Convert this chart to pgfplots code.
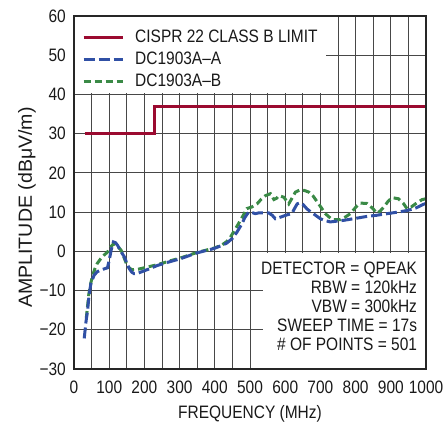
\documentclass[border=0pt]{standalone}
\usepackage{fontspec}
\setmainfont{Liberation Sans}[FakeStretch=0.86]
\newfontfamily\ylfont{Liberation Sans}[FakeStretch=1.03]
\usepackage{pgfplots}
\pgfplotsset{compat=1.18}
\definecolor{limred}{RGB}{155,10,48}
\definecolor{dcblue}{RGB}{48,80,165}
\definecolor{dcgreen}{RGB}{58,138,70}
\newcommand\bigf{\fontsize{18}{21}\selectfont}
\begin{document}
\begin{tikzpicture}
\begin{axis}[
 scale only axis, width=352pt, height=353pt,
 xmin=0,xmax=1000,ymin=-30,ymax=60,
 xtick={0,100,...,1000}, minor xtick={50,150,...,950},
 ytick={-30,-20,...,60},
 yticklabels={−30,−20,−10,0,10,20,30,40,50,60},
 grid=both,
 major grid style={black!72, line width=0.85pt},
 minor grid style={black!72, line width=0.85pt},
 major tick length=0pt, minor tick length=0pt,
 axis line style={black!85, line width=1.2pt},
 /pgf/number format/assume math mode=true,
 /pgf/number format/set thousands separator={},
 tick label style={font=\bigf, text=black!90},
 xticklabel style={anchor=base, yshift=-25pt, inner sep=0pt},
 yticklabel style={anchor=east, xshift=-8pt, inner sep=0pt},
 xlabel={FREQUENCY (MHz)},
 xlabel style={font=\bigf, text=black!90, at={([yshift=-50pt]axis description cs:0.5,0)}, anchor=base, inner sep=0pt},
 ylabel={AMPLITUDE (dBμV/m)},
 ylabel style={font=\ylfont\fontsize{19}{22}\selectfont, text=black!90, at={([xshift=-42pt,yshift=-15pt]axis description cs:0,0.5)}, anchor=base, inner sep=0pt},
 legend cell align=left,
 legend style={at={(0,1)}, anchor=north west, xshift=8pt, yshift=-13pt,
   draw=none, fill=none, font=\bigf, text=black!90, inner sep=0pt, row sep=5pt, column sep=11pt,
   nodes={inner sep=0pt, text height=13pt, text depth=4pt}},
 legend image code/.code={\draw[#1] (0pt,0pt) -- (39pt,0pt);},
]
\fill[white] (axis cs:0,40.35) rectangle (axis cs:717,60);
\fill[white] (axis cs:538,-30) rectangle (axis cs:1000,-0.35);

\addplot[limred, line width=3pt] coordinates {(30,30) (230,30) (230,37) (1000,37)};
\addlegendentry{CISPR 22 CLASS B LIMIT}

\addplot[dcgreen, line width=3pt, dash pattern=on 7pt off 4pt, forget plot] coordinates {
(35,-17) (42,-11) (48,-8) (52,-6.5) (59,-4.5) (66,-3.1) (75,-2) (85,-1) (95,-0.2) (104,1.1) (113,2.0) (123,1.4) (134,0.25) (143,-1.8) (151,-3.6) (158,-4.3) (165,-4.7) (185,-4.5) (209,-4) (237,-3.4) (270,-2.5) (302,-1.7) (349,-0.3) (397,0.8) (420,1.6) (434,2.5) (445,3.7) (453,4.9) (467,7) (481,9.2) (491,10.9) (505,11.3) (520,12.1) (532,13.3) (544,14.2) (558,14.7) (568,13.2) (575,13.5) (582,14.2) (596,13.8) (610,12.1) (619,13.5) (629,15.1) (643,15.7) (655,15.5) (667,15.1) (680,14) (695,12.1) (714,9.6) (733,8.1) (757,8.1) (770,8.7) (785,9.6) (800,11.2) (813,12.3) (832,12.2) (848,11) (861,9.7) (870,10.3) (880,11.3) (892,12.7) (903,13.7) (922,13.4) (935,12.3) (946,10.9) (958,11.3) (970,12.1) (989,13.2) (1000,13.4)};

\addplot[dcblue, line width=3pt, dash pattern=on 11pt off 4pt] coordinates {
(29,-22.2) (34,-18) (38.6,-15) (43,-11) (48,-8.2) (57,-6.1) (66,-5.2) (76,-4.8) (88,-4.4) (95,-4.2) (100,-2.3) (106,0.5) (112,2.4) (118,2.2) (124,1.5) (133,0) (143,-1.4) (150,-3) (157,-4.4) (164,-5.3) (171,-5.7) (180,-5.6) (190,-5.3) (210,-4.6) (237,-3.6) (270,-2.7) (302,-1.9) (349,-0.4) (397,0.7) (420,1.5) (434,2.1) (450,3.3) (463,4.9) (475,6.7) (486,8.7) (496,10) (505,9.9) (515,9.6) (525,9.8) (534,9.8) (553,9.8) (563,9.2) (572,8.3) (579,8.5) (586,8.7) (605,9.3) (619,9.6) (627,11) (634,12.1) (643,12.4) (650,12) (662,10.8) (672,10.1) (680,9.6) (700,8.3) (715,7.8) (728,7.5) (766,7.9) (800,8.4) (832,8.9) (860,9.2) (889,9.6) (920,10) (946,10.4) (970,11) (993,12) (1000,12.2)};
\addlegendentry{DC1903A–A}

\addlegendimage{dcgreen, line width=3pt, dash pattern=on 7pt off 4pt}
\addlegendentry{DC1903A–B}

\node[anchor=base east, font=\bigf, text=black!90, inner sep=0pt] at (axis cs:975,-6) {DETECTOR = QPEAK};
\node[anchor=base east, font=\bigf, text=black!90, inner sep=0pt] at (axis cs:975,-10.85) {RBW = 120kHz};
\node[anchor=base east, font=\bigf, text=black!90, inner sep=0pt] at (axis cs:975,-15.7) {VBW = 300kHz};
\node[anchor=base east, font=\bigf, text=black!90, inner sep=0pt] at (axis cs:975,-20.55) {SWEEP TIME = 17s};
\node[anchor=base east, font=\bigf, text=black!90, inner sep=0pt] at (axis cs:975,-25.4) {\# OF POINTS = 501};

\draw[black!85, line width=1.2pt] (rel axis cs:0,0) rectangle (rel axis cs:1,1);
\node[anchor=base east, yshift=-66.5pt, inner sep=0pt, font=\fontsize{10}{12}\selectfont, text=black!90] at (rel axis cs:1,0) {2889 F22};
\coordinate (sw) at (rel axis cs:0,0);
\coordinate (ne) at (rel axis cs:1,1);
\end{axis}
\pgfresetboundingbox
\path (sw) ++(-74pt,-68pt) rectangle ([xshift=17pt,yshift=16pt]ne);
\end{tikzpicture}
\end{document}
